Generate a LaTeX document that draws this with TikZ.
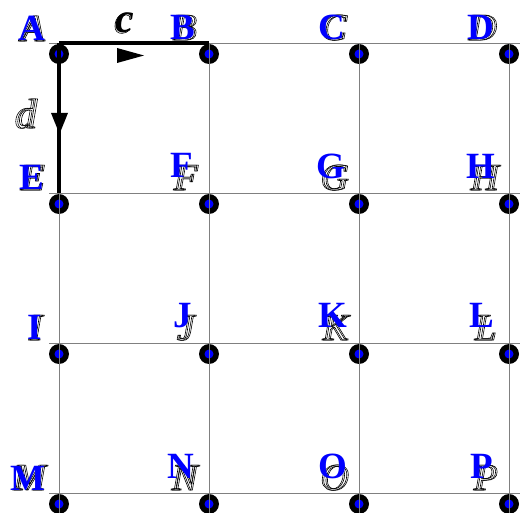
\documentclass[tikz,border=0pt]{standalone}
\usepackage{fontspec}
\setmainfont{Liberation Serif}
\newcommand\outlinetext[1]{\special{pdf:literal direct 1 Tr 0.6 w}#1\special{pdf:literal direct 0 Tr}}
\begin{document}
\begin{tikzpicture}[x=1pt,y=-1pt]
\tikzset{
  gridline/.style={draw=gray,line width=0.9pt},
  heavyline/.style={draw=black,line width=4pt},
  dotouter/.style={circle,fill=black,minimum size=20pt,inner sep=0pt},
  dotinner/.style={circle,fill=blue,minimum size=9pt,inner sep=0pt},
  bluelbl/.style={anchor=base,inner sep=0pt,text=blue,font=\fontsize{37}{37}\selectfont\bfseries},
  itallbl/.style={anchor=base,inner sep=0pt,text=black,font=\fontsize{38}{38}\selectfont\itshape},
  edgelbl/.style={anchor=base,inner sep=0pt,text=black,font=\fontsize{42}{42}\selectfont\itshape},
  arrowtri/.style={fill=black}
}
\useasboundingbox (0,0) rectangle (520,513);
% grid points
\coordinate (A) at (59,43);
\coordinate (B) at (209,43);
\coordinate (E) at (59,193);
% dots
\foreach \c [count=\i from 0] in {59,209,359,509}{
  \foreach \r [count=\j from 0] in {54,204,354,504}{
    \node[dotouter] (do\i\j) at (\c,\r) {};
    \node[dotinner] (di\i\j) at (\c,\r) {};
  }
}
% grid lines
\foreach \r [count=\j] in {43,193,343,493}{
  \coordinate (hl\j) at (49,\r);
  \coordinate (hr\j) at (520,\r);
  \draw[gridline] (hl\j) -- (hr\j);
}
\foreach \c [count=\i] in {59,209,359,509}{
  \coordinate (vt\i) at (\c,43);
  \coordinate (vb\i) at (\c,513);
  \draw[gridline] (vt\i) -- (vb\i);
}
% heavy edges
\draw[heavyline] (A) -- (B);
\draw[heavyline] (A) -- (E);
\fill[arrowtri] (117,48) -- (117,63) -- (144,55.5) -- cycle;
\fill[arrowtri] (51,113) -- (68,113) -- (59.5,134) -- cycle;
% edge labels
\node[edgelbl,font=\fontsize{42}{42}\selectfont\bfseries\itshape] (cf) at (125,33) {c};
\node[edgelbl] (co) at (123,33) {\outlinetext{c}};
\node[edgelbl] (d1) at (25,128) {\outlinetext{d}};
\node[edgelbl] (d2) at (27,128) {\outlinetext{d}};
% italic outlined letters
\foreach \L/\x/\y in {A/32/41,B/184/40,C/333/40,D/482/40,
                      E/32/190,F/185/190,G/334/190,H/484/190,
                      I/35/340,J/185/340,K/335/340,L/485/340,
                      M/29/490,N/184/490,O/334/490,P/485/490}{
  \node[itallbl] (i\L) at (\x,\y) {\outlinetext{\L}};
  \node[itallbl] (j\L) at (\x+1.5,\y) {\outlinetext{\L}};
}
% blue letters
\foreach \L/\x/\y in {A/32/41,B/183/40,C/332/40,D/481/40,
                      E/32/190,F/182/178,G/331/179,H/481/179,
                      I/35/340,J/183/328,K/333/328,L/482/328,
                      M/28/490,N/181/478,O/333/478,P/482/478}{
  \node[bluelbl] (b\L) at (\x,\y) {\L};
}
\end{tikzpicture}
\end{document}
